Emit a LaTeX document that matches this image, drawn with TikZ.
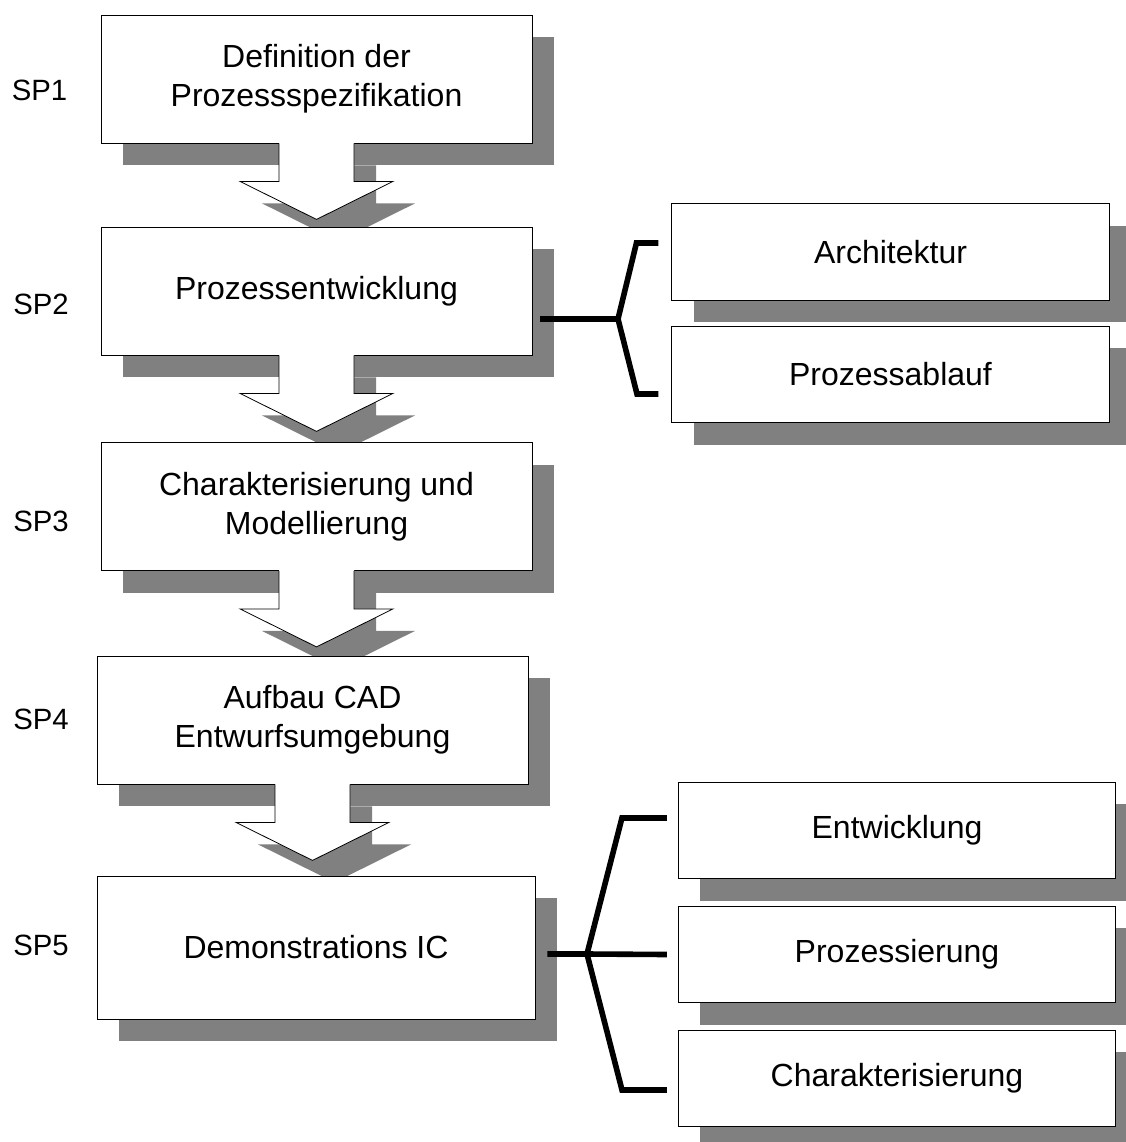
\documentclass[tikz,border=0pt]{standalone}
\usepackage{fontspec}
\setmainfont{Liberation Sans}
\usetikzlibrary{calc}
\usetikzlibrary{shadows}
\definecolor{shadowgray}{gray}{0.5}
\tikzset{
  outline/.style={draw=black,line width=0.6pt},
  spbox/.style={outline,fill=white,shape=rectangle,inner sep=0pt,align=center,
    font=\fontsize{24}{29}\selectfont,
    general shadow={shadow xshift=16.5pt,shadow yshift=-16.5pt,fill=shadowgray,opacity=1}},
  mainbox/.style={spbox,minimum width=323.25pt,minimum height=96pt},
  subbox/.style={spbox,minimum width=328pt,minimum height=72.5pt},
  splabel/.style={font=\fontsize{22}{26}\selectfont,inner sep=0pt},
  bracket/.style={line width=4.2pt,line join=miter}
}
\newcommand*\steparrow[1]{
  \begin{scope}[shift={($(#1.south)+(22,22)$)}]
    \fill[shadowgray] (-37.5,0) -- (-37.5,38) -- (-76.5,38) -- (0,76) -- (76.5,38) -- (37.5,38) -- (37.5,0) -- cycle;
  \end{scope}
  \begin{scope}[shift={(#1.south)}]
    \fill[white] (-37.5,-1.5) -- (-37.5,38) -- (-76.5,38) -- (0,76) -- (76.5,38) -- (37.5,38) -- (37.5,-1.5) -- cycle;
    \draw[outline] (-37.5,0) -- (-37.5,38) -- (-76.5,38) -- (0,76) -- (76.5,38) -- (37.5,38) -- (37.5,0);
  \end{scope}}

\begin{document}
\begin{tikzpicture}[x=0.75pt,y=-0.75pt]
\useasboundingbox (0,0) rectangle (1125,1142);
% main steps
\node [mainbox] (def) at (316.5,79) {Definition der\\Prozessspezifikation};
\steparrow{def}
\node [mainbox] (entw) at (316.5,291) {Prozessentwicklung};
\steparrow{entw}
\node [mainbox] (char) at (316.5,506.5) {Charakterisierung und\\Modellierung};
\steparrow{char}
\node [mainbox] (cad) at (312.5,720) {Aufbau CAD\\Entwurfsumgebung};
\steparrow{cad}
\node [spbox,minimum width=328.5pt,minimum height=107.25pt] (demo) at (316,947.5) {Demonstrations IC};
% sub tasks SP2
\node [subbox] (arch) at (890.5,252) {Architektur};
\node [subbox] (ablauf) at (890.5,374.5) {Prozessablauf};
% sub tasks SP5
\node [subbox] (dentw) at (897,830.5) {Entwicklung};
\node [subbox] (dproz) at (897,954.5) {Prozessierung};
\node [subbox] (dchar) at (897,1078.5) {Charakterisierung};
% brackets
\coordinate (j2) at (618,319);
\draw [bracket] ($(entw.east |- j2)+(8,0)$) -- (j2);
\draw [bracket] ($(arch.west)+(-13,-9)$) -- ++(-22,0) -- (j2) -- ++(19,75) -- ($(ablauf.west)+(-13,19.5)$);
\coordinate (j5) at (587,954);
\draw [bracket] ($(demo.east |- j5)+(12,0)$) -- (j5) -- ($(dproz.west)+(-11,0)$);
\draw [bracket] ($(dentw.west)+(-11,-12.5)$) -- ++(-45,0) -- (j5) -- ++(35,136) -- ($(dchar.west)+(-11,11.5)$);
% labels
\node [splabel] (sp1) at (39.5,90) {SP1};
\node [splabel] (sp2) at (41,304) {SP2};
\node [splabel] (sp3) at (41,521) {SP3};
\node [splabel] (sp4) at (41,719) {SP4};
\node [splabel] (sp5) at (41,945) {SP5};
\end{tikzpicture}
\end{document}
